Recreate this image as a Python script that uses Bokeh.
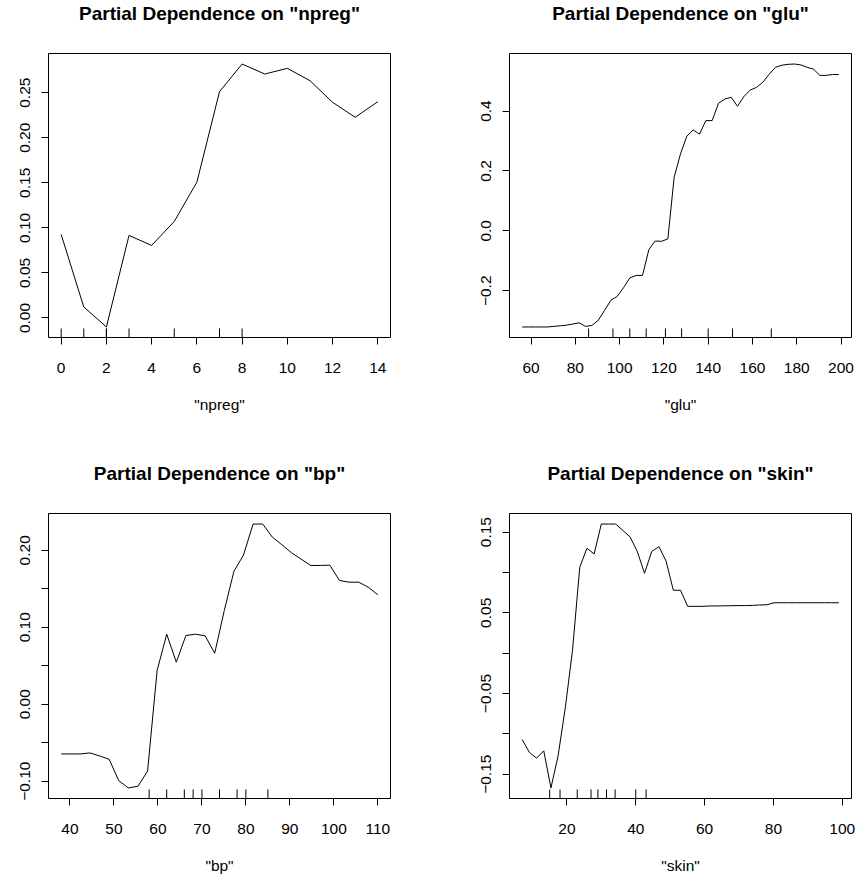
import math
from bokeh.plotting import figure
from bokeh.layouts import column, row
from bokeh.models import Range1d, FixedTicker
from bokeh.embed import file_html
from bokeh.resources import INLINE

# ---------------- data ----------------
npreg_x = [0, 1, 2, 3, 4, 5, 6, 7, 8, 9, 10, 11, 12, 13, 14]
npreg_pd = [0.0927, 0.0122, -0.0100, 0.0916, 0.0805, 0.1071, 0.1507, 0.2511,
            0.2818, 0.2707, 0.2770, 0.2633, 0.2393, 0.2227, 0.2400]
npreg_rug = [0, 1, 2, 2, 3, 5, 7, 8]

glu_x = [56, 58.86, 61.72, 64.58, 67.44, 70.3, 73.16, 76.02, 78.88, 81.74,
         84.6, 87.46, 90.32, 93.18, 96.04, 98.9, 101.76, 104.62, 107.48, 110.34,
         113.2, 116.06, 118.92, 121.78, 124.64, 127.5, 130.36, 133.22, 136.08, 138.94,
         141.8, 144.66, 147.52, 150.38, 153.24, 156.1, 158.96, 161.82, 164.68, 167.54,
         170.4, 173.26, 176.12, 178.98, 181.84, 184.7, 187.56, 190.42, 193.28, 196.14, 199]
glu_pd = [-0.321, -0.321, -0.321, -0.321, -0.321, -0.319, -0.317, -0.315, -0.311, -0.307,
          -0.319, -0.316, -0.299, -0.266, -0.232, -0.219, -0.190, -0.157, -0.149, -0.149,
          -0.063, -0.034, -0.035, -0.027, 0.179, 0.257, 0.316, 0.337, 0.323, 0.368,
          0.368, 0.426, 0.440, 0.446, 0.416, 0.448, 0.470, 0.479, 0.496, 0.523,
          0.546, 0.553, 0.556, 0.557, 0.554, 0.546, 0.540, 0.519, 0.519, 0.522, 0.522]
glu_rug = [86, 97, 104.6, 112, 120.7, 128, 140, 151, 168.5]

bp_x = [38, 40.18, 42.36, 44.55, 46.73, 48.91, 51.09, 53.27, 55.45, 57.64,
        59.82, 62, 64.18, 66.36, 68.55, 70.73, 72.91, 75.09, 77.27, 79.45,
        81.64, 83.82, 86, 88.18, 90.36, 92.55, 94.73, 96.91, 99.09, 101.27,
        103.45, 105.64, 107.82, 110]
bp_pd = [-0.0646, -0.0646, -0.0646, -0.0633, -0.0672, -0.0715, -0.0993, -0.1088, -0.1066, -0.0871,
         0.0438, 0.0910, 0.0546, 0.0893, 0.0910, 0.0889, 0.0663, 0.1218, 0.1725, 0.1938,
         0.2341, 0.2341, 0.2172, 0.2072, 0.1968, 0.1886, 0.1803, 0.1803, 0.1807, 0.1608,
         0.1586, 0.1586, 0.1521, 0.1422]
bp_rug = [58, 62, 66, 68, 70, 74, 78, 80, 85]

skin_x = [7, 9.09, 11.18, 13.27, 15.36, 17.45, 19.55, 21.64, 23.73, 25.82,
          27.91, 30.0, 32.09, 34.18, 36.27, 38.36, 40.45, 42.55, 44.64, 46.73,
          48.82, 50.91, 53.0, 55.09, 57.18, 59.27, 61.36, 63.45, 65.55, 67.64,
          69.73, 71.82, 73.91, 76.0, 78.09, 80.18, 82.27, 84.36, 86.45, 88.55,
          90.64, 92.73, 94.82, 96.91, 99]
skin_pd = [-0.107, -0.123, -0.130, -0.121, -0.167, -0.127, -0.067, 0.004, 0.1065, 0.130,
           0.123, 0.160, 0.160, 0.160, 0.152, 0.144, 0.126, 0.099, 0.126, 0.132,
           0.114, 0.078, 0.078, 0.058, 0.058, 0.058, 0.0585, 0.0585, 0.0587, 0.0588,
           0.059, 0.059, 0.0592, 0.0597, 0.060, 0.0625, 0.0625, 0.0625, 0.0625, 0.0625,
           0.0625, 0.0625, 0.0625, 0.0625, 0.0625]
skin_rug = [15, 18, 23, 27, 29, 31.5, 34, 40, 43]

npreg_xticks = [0, 2, 4, 6, 8, 10, 12, 14]
npreg_yticks = [0.0, 0.05, 0.10, 0.15, 0.20, 0.25]
npreg_ylabels = ["0.00", "0.05", "0.10", "0.15", "0.20", "0.25"]

glu_xticks = [60, 80, 100, 120, 140, 160, 180, 200]
glu_yticks = [-0.2, 0.0, 0.2, 0.4]
glu_ylabels = ["\u22120.2", "0.0", "0.2", "0.4"]

bp_xticks = [40, 50, 60, 70, 80, 90, 100, 110]
bp_yticks = [-0.10, -0.05, 0.0, 0.05, 0.10, 0.15, 0.20]
bp_ylabels = ["\u22120.10", "", "0.00", "", "0.10", "", "0.20"]

skin_xticks = [20, 40, 60, 80, 100]
skin_yticks = [-0.15, -0.10, -0.05, 0.0, 0.05, 0.10, 0.15]
skin_ylabels = ["\u22120.15", "", "\u22120.05", "", "0.05", "", "0.15"]

FONT = "Liberation Sans"


def panel(name, x, y, rug, xticks, yticks, ylabels, width, height, ml, mr, mt, mb):
    xlo, xhi = min(x), max(x)
    ylo, yhi = min(y), max(y)
    dx = 0.04 * (xhi - xlo)
    dy = 0.04 * (yhi - ylo)
    y0 = ylo - dy
    p = figure(width=width, height=height, output_backend="svg", toolbar_location=None,
               x_range=Range1d(xlo - dx, xhi + dx), y_range=Range1d(y0, yhi + dy),
               min_border_left=ml, min_border_right=mr, min_border_top=mt, min_border_bottom=mb,
               tools="")
    # second (blank) line gives the title box the height of the top margin
    p.title.text = 'Partial Dependence on "%s"\n ' % name
    p.title.align = "center"
    p.title.vertical_align = "top"
    p.title.text_font = FONT
    p.title.text_font_size = "19px"
    p.title.text_font_style = "bold"
    p.title.text_color = "black"
    p.title.text_line_height = 1.3
    p.title.standoff = 2
    p.background_fill_color = "white"
    p.border_fill_color = "white"
    p.outline_line_color = "black"
    p.outline_line_width = 1
    p.outline_line_alpha = 1
    p.xgrid.visible = False
    p.ygrid.visible = False

    p.line(x, y, line_color="black", line_width=1)
    p.ray(x=rug, y=[y0] * len(rug), length=9, length_units="screen", angle=math.pi / 2,
          line_color="black", line_width=1)

    for ax in (p.xaxis[0], p.yaxis[0]):
        ax.axis_line_color = None
        ax.major_tick_line_color = "black"
        ax.major_tick_out = 7
        ax.major_tick_in = 0
        ax.minor_tick_line_color = None
        ax.major_label_text_font = FONT
        ax.major_label_text_font_size = "15.5px"
        ax.major_label_text_color = "black"
    p.xaxis.ticker = FixedTicker(ticks=xticks)
    p.xaxis.major_label_standoff = 18
    p.xaxis.axis_label = '"%s"' % name
    p.xaxis.axis_label_text_font = FONT
    p.xaxis.axis_label_text_font_size = "15.5px"
    p.xaxis.axis_label_text_font_style = "normal"
    p.xaxis.axis_label_text_color = "black"
    p.xaxis.axis_label_standoff = 20
    p.yaxis.ticker = FixedTicker(ticks=yticks)
    p.yaxis.major_label_overrides = {t: l for t, l in zip(yticks, ylabels)}
    p.yaxis.major_label_orientation = "parallel"
    p.yaxis.major_label_standoff = 11
    return p


p1 = panel("npreg", npreg_x, npreg_pd, npreg_rug, npreg_xticks, npreg_yticks, npreg_ylabels,
           460, 460, 48, 70, 53, 123)
p2 = panel("glu", glu_x, glu_pd, glu_rug, glu_xticks, glu_yticks, glu_ylabels,
           397, 460, 49, 6, 53, 123)
p3 = panel("bp", bp_x, bp_pd, bp_rug, bp_xticks, bp_yticks, bp_ylabels,
           460, 419, 48, 70, 53, 81)
p4 = panel("skin", skin_x, skin_pd, skin_rug, skin_xticks, skin_yticks, skin_ylabels,
           397, 419, 49, 6, 53, 81)

layout = column(row(p1, p2, spacing=0), row(p3, p4, spacing=0), spacing=0)
open("out.html", "w").write(file_html(layout, INLINE))
